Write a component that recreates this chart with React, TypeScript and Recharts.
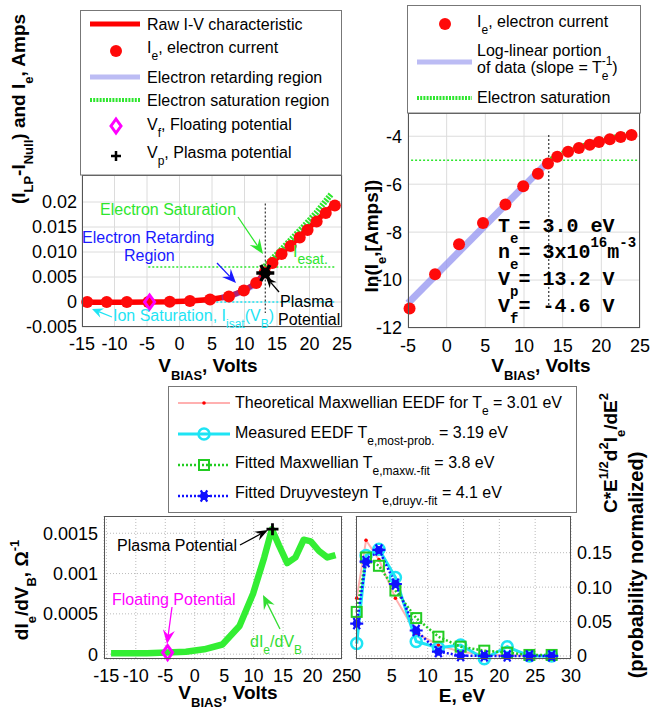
import React from 'react';
import { LineChart, Line, XAxis, YAxis, CartesianGrid, ReferenceLine } from 'recharts';

const SANS = '"Liberation Sans", Arial, Helvetica, sans-serif';
const MONO = '"Liberation Mono", "Courier New", monospace';

// ---------- probe sweep (top-left + bottom-left panels) ----------
const vBias = [-14.2, -11.2, -8.1, -4.8, -1.5, 1.6, 4.7, 7.6, 9.9, 11.8, 13.1, 14.3, 15.7, 17.1, 18.5, 19.7, 21.1, 22.5, 23.9];
const rawCurrent = [-0.00005, -0.00004, -0.00003, 0, 0.00005, 0.0002, 0.0005, 0.0011, 0.0023, 0.0038, 0.0059, 0.0079, 0.0098, 0.0114, 0.0131, 0.0146, 0.0163, 0.018, 0.0196];
const electronCurrent = [0, 0, 0, 0.00001, 0.00006, 0.0002, 0.0005, 0.0011, 0.0023, 0.0038, 0.0059, 0.0078, 0.0096, 0.0112, 0.0129, 0.0144, 0.0161, 0.0178, 0.0193];
const dIdV = [0.00001, 0.00001, 0.00001, 0.00002, 0.00003, 0.00006, 0.00012, 0.00035, 0.00075, 0.0012, 0.00155, 0.00135, 0.00113, 0.0012, 0.00142, 0.0014, 0.00128, 0.0012, 0.00123];

const retardV = [6.5, 7.6, 9.9, 11.8, 13.2];
const retardI = [0.0009, 0.0011, 0.0022, 0.0037, 0.0058];
const esatFitV = [13.1, 15, 17, 19, 21, 23.3];
const esatFitI = [0.0071, 0.0096, 0.0123, 0.015, 0.0178, 0.0215];

const plasmaPotential = 13.2;
const floatingPotential = -4.6;
const plasmaCurrent = 0.0058;
const esatLevel = 0.007;
const plasmaDeriv = 0.00155;
const floatingDeriv = 0.00002;

// ---------- ln(Ie) panel ----------
const lnV = [-4.8, -1.5, 1.6, 4.7, 7.6, 9.9, 11.8, 13.1, 14.3, 15.7, 17.1, 18.5, 19.7, 21.1, 22.5, 23.9];
const lnIe = [-11.19, -9.76, -8.51, -7.62, -6.85, -6.09, -5.56, -5.14, -4.86, -4.65, -4.49, -4.35, -4.24, -4.13, -4.03, -3.95];
const logFitV = [-5, 13.1];
const logFitLn = [-10.97, -5.07];
const lnSatV = [13.1, 15, 17, 19, 21, 23, 24];
const lnSatLn = [-5.02, -4.7, -4.46, -4.25, -4.08, -3.94, -3.86];
const lnEsatLevel = -5;

// ---------- EEDF panel ----------
const energy = [0.1, 1.4, 3.2, 5.5, 8.4, 11.5, 14.6, 17.9, 21.1, 24.2, 27.3];
const theoryEEDF = [0.084, 0.168, 0.14, 0.084, 0.033, 0.016, 0.006, 0.002, 0.001, 0.0003, 0.0001];
const measuredEEDF = [0.018, 0.146, 0.155, 0.114, 0.021, 0.012, 0.016, -0.004, 0.0135, 0, 0];
const maxwellFit = [0.064, 0.143, 0.131, 0.095, 0.055, 0.028, 0.0135, 0.0077, 0.0048, 0.0015, 0.0015];
const druyvFit = [0.047, 0.137, 0.154, 0.1045, 0.037, 0.0063, 0.0005, 0, 0, 0, 0];

// ---------- ticks ----------
const vTicks = [-15, -10, -5, 0, 5, 10, 15, 20, 25];
const p1YTicks = [-0.005, 0, 0.005, 0.01, 0.015, 0.02];
const p1YLabels = ['-0.005', '0', '0.005', '0.010', '0.015', '0.02'];
const p2XTicks = [-5, 0, 5, 10, 15, 20, 25];
const p2YTicks = [-12, -10, -8, -6, -4];
const p3YTicks = [0, 0.0005, 0.001, 0.0015];
const p3YLabels = ['0', '0.0005', '0.001', '0.0015'];
const p4XTicks = [0, 5, 10, 15, 20, 25, 30];
const p4YTicks = [0, 0.05, 0.1, 0.15];
const p4YLabels = ['0', '0.05', '0.10', '0.15'];

const pts = (xs: number[], ys: number[]) => xs.map((x, i) => ({ x, y: ys[i] }));
const fmt = (ticks: number[], labels: string[]) => (v: number) => {
  const i = ticks.indexOf(v);
  return i >= 0 ? labels[i] : String(v);
};

const TICK = { fill: '#000', fontSize: 18, fontFamily: SANS };
const GRID = '#dcdcdc';
const FRAME = '#555';
const RED = '#ff0000';
const GREEN = '#2ee62e';
const CYAN = '#1ee4f4';
const MAGENTA = '#ff00ff';
const BLUE = '#1a1aff';

// ---------- markers ----------
const redDot = (p: any) => <circle key={`r${p.index}`} cx={p.cx} cy={p.cy} r={6} fill="#ff0a0a" />;
const diamond = (p: any) => (
  <polygon key={`d${p.index}`} points={`${p.cx},${p.cy - 7} ${p.cx + 5},${p.cy} ${p.cx},${p.cy + 7} ${p.cx - 5},${p.cy}`} fill="none" stroke={MAGENTA} strokeWidth={3} />
);
const bigStar = (p: any) => (
  <g key={`s${p.index}`} stroke="#000" strokeWidth={3.5}>
    <path d={`M${p.cx - 9},${p.cy}h18M${p.cx - 4.5},${p.cy - 8}l9,16M${p.cx - 4.5},${p.cy + 8}l9,-16`} />
    <circle cx={p.cx} cy={p.cy} r={3.5} fill="#000" />
  </g>
);
const plusMark = (p: any) => (
  <path key={`p${p.index}`} d={`M${p.cx - 6},${p.cy}h12M${p.cx},${p.cy - 6}v12`} stroke="#000" strokeWidth={2.8} />
);
const smallRed = (p: any) => <circle key={`t${p.index}`} cx={p.cx} cy={p.cy} r={1.8} fill="#ff0000" />;
const openCircle = (p: any) => <circle key={`o${p.index}`} cx={p.cx} cy={p.cy} r={5.5} fill="none" stroke={CYAN} strokeWidth={2.5} />;
const openSquare = (p: any) => <rect key={`q${p.index}`} x={p.cx - 5} y={p.cy - 5} width={10} height={10} fill="none" stroke="#22cc22" strokeWidth={2} />;
const druyStar = (p: any) => (
  <g key={`b${p.index}`} stroke="#1010ff" strokeWidth={2.2}>
    <path d={`M${p.cx - 6.5},${p.cy}h13M${p.cx - 3.2},${p.cy - 5.6}l6.4,11.2M${p.cx - 3.2},${p.cy + 5.6}l6.4,-11.2`} />
    <circle cx={p.cx} cy={p.cy} r={4} fill="#1010ff" stroke="none" />
  </g>
);

// ---------- overlay helpers ----------
type Seg = [string, number, number?];
function Rich({ x, y, segs, size = 16, small = 12, fill = '#000', bold = false, anchor = 'start', rot = false, family = SANS, sub = 0.42, sup = 0.5 }: any) {
  let level = 0;
  const spans = segs.map(([s, k, dx]: Seg, i: number) => {
    const target = k === 1 ? size * sub : k === -1 ? -size * sup : 0;
    const dy = target - level;
    level = target;
    return (
      <tspan key={i} dy={dy} dx={dx} fontSize={k === 0 ? size : small}>
        {s}
      </tspan>
    );
  });
  return (
    <text x={x} y={y} fill={fill} fontFamily={family} fontWeight={bold ? 'bold' : 'normal'} textAnchor={anchor} style={{ whiteSpace: 'pre' }} transform={rot ? `rotate(-90 ${x} ${y})` : undefined}>
      {spans}
    </text>
  );
}

function Arrow({ x1, y1, x2, y2, color, len = 13, half = 5 }: any) {
  const dx = x2 - x1;
  const dy = y2 - y1;
  const d = Math.hypot(dx, dy);
  const ux = dx / d;
  const uy = dy / d;
  const bx = x2 - ux * len;
  const by = y2 - uy * len;
  const nx = x2 - ux * len * 0.65;
  const ny = y2 - uy * len * 0.65;
  const poly = [
    [x2, y2],
    [bx - uy * half, by + ux * half],
    [nx, ny],
    [bx + uy * half, by - ux * half],
  ];
  return (
    <g>
      <line x1={x1} y1={y1} x2={nx} y2={ny} stroke={color} strokeWidth={1.3} />
      <polygon points={poly.map((q) => q.join(',')).join(' ')} fill={color} />
    </g>
  );
}

const axisCommon = { tickSize: 0, axisLine: false, tickLine: false, tick: TICK, interval: 0 as const };
const series = { isAnimationActive: false, activeDot: false, dataKey: 'y' };

export default function App() {
  return (
    <div style={{ position: 'absolute', left: 0, top: 0, width: 650, height: 712, background: '#fff', fontFamily: SANS }}>
      {/* top-left: I-V characteristic */}
      <div style={{ position: 'absolute', left: 0, top: 175 }}>
        <LineChart width={352} height={182} margin={{ top: 0, right: 10, bottom: 0, left: 0 }}>
          <CartesianGrid stroke={GRID} />
          <XAxis type="number" dataKey="x" domain={[-15, 25]} ticks={vTicks} height={30} tickMargin={10} {...axisCommon} />
          <YAxis type="number" domain={[-0.005, 0.0254]} ticks={p1YTicks} width={82} tickMargin={5} tickFormatter={fmt(p1YTicks, p1YLabels)} {...axisCommon} />
          <ReferenceLine segment={[{ x: -4.8, y: 0 }, { x: 23.9, y: 0 }]} stroke={CYAN} strokeWidth={1.5} strokeDasharray="2 2" />
          <Line data={pts(vBias, rawCurrent)} {...series} stroke={RED} strokeWidth={5.5} dot={false} />
          <Line data={pts(vBias, electronCurrent)} {...series} stroke="none" dot={redDot} />
          <Line data={pts(retardV, retardI)} {...series} stroke="#4a4aff" strokeOpacity={0.45} strokeWidth={6} dot={false} />
          <Line data={pts(esatFitV, esatFitI)} {...series} stroke={GREEN} strokeWidth={6} strokeDasharray="2 1.2" dot={false} />
          <ReferenceLine segment={[{ x: -4.8, y: esatLevel }, { x: 24, y: esatLevel }]} stroke={GREEN} strokeWidth={1.5} strokeDasharray="2 2" />
          <ReferenceLine segment={[{ x: plasmaPotential, y: 0.0197 }, { x: plasmaPotential, y: -0.0022 }]} stroke="#333" strokeWidth={1.2} strokeDasharray="2 2" />
          <Line data={[{ x: floatingPotential, y: 0 }]} {...series} stroke="none" dot={diamond} />
          <Line data={[{ x: plasmaPotential, y: plasmaCurrent }]} {...series} stroke="none" dot={bigStar} />
        </LineChart>
      </div>

      {/* top-right: ln(Ie) */}
      <div style={{ position: 'absolute', left: 360, top: 113 }}>
        <LineChart width={292} height={245} margin={{ top: 0, right: 12, bottom: 0, left: 0 }}>
          <CartesianGrid stroke={GRID} />
          <XAxis type="number" dataKey="x" domain={[-5, 25]} ticks={p2XTicks} height={30} tickMargin={11} {...axisCommon} />
          <YAxis type="number" domain={[-12, -3.03]} ticks={p2YTicks} width={48} tickMargin={6} {...axisCommon} />
          <ReferenceLine segment={[{ x: -4.6, y: lnEsatLevel }, { x: 24.7, y: lnEsatLevel }]} stroke={GREEN} strokeWidth={1.5} strokeDasharray="2 2" />
          <ReferenceLine segment={[{ x: plasmaPotential, y: -3.95 }, { x: plasmaPotential, y: -11.1 }]} stroke="#333" strokeWidth={1.2} strokeDasharray="2 2" />
          <Line data={pts(lnV, lnIe)} {...series} stroke="none" dot={redDot} />
          <Line data={pts(logFitV, logFitLn)} {...series} stroke="#8c8cf0" strokeOpacity={0.7} strokeWidth={7} dot={false} />
          <Line data={pts(lnSatV, lnSatLn)} {...series} stroke={GREEN} strokeWidth={5} strokeDasharray="2 1.2" dot={false} />
        </LineChart>
      </div>

      {/* bottom-left: dIe/dVB */}
      <div style={{ position: 'absolute', left: 0, top: 516 }}>
        <LineChart width={352} height={173} margin={{ top: 0, right: 10, bottom: 0, left: 0 }}>
          <CartesianGrid stroke="#bbb" strokeDasharray="1 2" />
          <XAxis type="number" dataKey="x" domain={[-15.4, 25]} ticks={vTicks} height={30} tickMargin={10} {...axisCommon} />
          <YAxis type="number" domain={[-0.00006, 0.001714]} ticks={p3YTicks} width={104} tickMargin={6} tickFormatter={fmt(p3YTicks, p3YLabels)} {...axisCommon} />
          <Line data={pts(vBias, dIdV)} {...series} stroke="#33ee33" strokeWidth={6.5} strokeLinejoin="round" dot={false} />
          <Line data={[{ x: floatingPotential, y: floatingDeriv }]} {...series} stroke="none" dot={diamond} />
          <Line data={[{ x: plasmaPotential, y: plasmaDeriv }]} {...series} stroke="none" dot={plusMark} />
        </LineChart>
      </div>

      {/* bottom-right: EEDF */}
      <div style={{ position: 'absolute', left: 344, top: 516 }}>
        <LineChart width={287} height={173} margin={{ top: 0, right: 0, bottom: 0, left: 12 }}>
          <CartesianGrid stroke="#bbb" strokeDasharray="1 2" />
          <XAxis type="number" dataKey="x" domain={[0, 30]} ticks={p4XTicks} height={30} tickMargin={10} {...axisCommon} />
          <YAxis type="number" orientation="right" domain={[-0.0044, 0.2033]} ticks={p4YTicks} width={60} tickMargin={6} tickFormatter={fmt(p4YTicks, p4YLabels)} {...axisCommon} />
          <Line data={pts(energy, theoryEEDF)} {...series} stroke="#ffb0b0" strokeWidth={2} dot={smallRed} />
          <Line data={pts(energy, measuredEEDF)} {...series} stroke={CYAN} strokeWidth={3} dot={openCircle} />
          <Line data={pts(energy, maxwellFit)} {...series} stroke="#22cc22" strokeWidth={2.5} strokeDasharray="2 2" dot={openSquare} />
          <Line data={pts(energy, druyvFit)} {...series} stroke="#1010ff" strokeWidth={2.5} strokeDasharray="2 2" dot={druyStar} />
        </LineChart>
      </div>

      {/* frames, legends, labels, annotations */}
      <svg width={650} height={712} style={{ position: 'absolute', left: 0, top: 0, pointerEvents: 'none' }} fontFamily={SANS}>
        <rect x={82.5} y={175.5} width={259} height={151} fill="none" stroke={FRAME} />
        <rect x={408.5} y={113.5} width={231} height={214} fill="none" stroke={FRAME} />
        <rect x={104.5} y={516.5} width={237} height={142} fill="none" stroke={FRAME} />
        <rect x={356.5} y={516.5} width={214} height={142} fill="none" stroke={FRAME} />

        {/* legend 1 */}
        <rect x={80.5} y={10.5} width={261} height={164.5} fill="#fff" stroke="#777" />
        <line x1={90} x2={140} y1={24} y2={24} stroke={RED} strokeWidth={5} />
        <Rich x={147} y={30} segs={[['Raw I-V characteristic', 0]]} />
        {redDot({ cx: 116, cy: 51, index: 'l1' })}
        <Rich x={147} y={53} segs={[['I', 0], ['e', 1], [', electron current', 0]]} />
        <line x1={90} x2={140} y1={77} y2={77} stroke="#bcbcf4" strokeWidth={5} />
        <Rich x={147} y={83} segs={[['Electron retarding region', 0]]} />
        <line x1={90} x2={140} y1={100} y2={100} stroke={GREEN} strokeWidth={4} strokeDasharray="2 1.2" />
        <Rich x={147} y={106} segs={[['Electron saturation region', 0]]} />
        {diamond({ cx: 116, cy: 126, index: 'l1' })}
        <Rich x={147} y={130} segs={[['V', 0], ['f', 1], [', Floating potential', 0]]} />
        <path d="M111,156h10M116,151v10" stroke="#000" strokeWidth={2.5} />
        <Rich x={147} y={158} segs={[['V', 0], ['p', 1], [', Plasma potential', 0]]} />

        {/* legend 2 */}
        <rect x={407.5} y={5.5} width={233} height={107.5} fill="#fff" stroke="#777" />
        {redDot({ cx: 445, cy: 24, index: 'l2' })}
        <Rich x={477} y={27} segs={[['I', 0], ['e', 1], [', electron current', 0]]} />
        <line x1={417} x2={472} y1={62} y2={62} stroke="#bcbcf4" strokeWidth={5} />
        <Rich x={477} y={56} segs={[['Log-linear portion', 0]]} />
        <Rich x={477} y={73} segs={[['of data (slope = T', 0], ['-1', -1], ['e', 1, -10.7], [')', 0, 4]]} />
        <line x1={417} x2={472} y1={98} y2={98} stroke={GREEN} strokeWidth={4} strokeDasharray="2 1.2" />
        <Rich x={477} y={103} segs={[['Electron saturation', 0]]} />

        {/* legend 3 */}
        <rect x={168.5} y={386.5} width={408} height={126} fill="#fff" stroke="#777" />
        <line x1={178} x2={230} y1={403} y2={403} stroke="#ffb0b0" strokeWidth={2} />
        {smallRed({ cx: 204, cy: 403, index: 'l3' })}
        <Rich x={235} y={408} segs={[['Theoretical Maxwellian EEDF for T', 0], ['e', 1], [' = 3.01 eV', 0]]} />
        <line x1={178} x2={230} y1={434} y2={434} stroke={CYAN} strokeWidth={3} />
        {openCircle({ cx: 204, cy: 434, index: 'l3' })}
        <Rich x={235} y={438} segs={[['Measured EEDF T', 0], ['e,most-prob.', 1], [' = 3.19 eV', 0]]} />
        <line x1={178} x2={230} y1={465} y2={465} stroke="#22cc22" strokeWidth={2.5} strokeDasharray="2 2" />
        {openSquare({ cx: 204, cy: 465, index: 'l3' })}
        <Rich x={235} y={468} segs={[['Fitted Maxwellian T', 0], ['e,maxw.-fit', 1], [' = 3.8 eV', 0]]} />
        <line x1={178} x2={230} y1={496} y2={496} stroke="#1010ff" strokeWidth={2.5} strokeDasharray="2 2" />
        {druyStar({ cx: 204, cy: 496, index: 'l3' })}
        <Rich x={235} y={498} segs={[['Fitted Druyvesteyn T', 0], ['e,druyv.-fit', 1], [' = 4.1 eV', 0]]} />

        {/* axis labels */}
        <Rich x={25} y={109} rot bold size={19} small={13} anchor="middle" segs={[['(I', 0], ['LP', 1], ['-I', 0], ['Null', 1], [') and I', 0], ['e', 1], [', Amps', 0]]} />
        <Rich x={208} y={372} bold size={19} small={13} anchor="middle" segs={[['V', 0], ['BIAS', 1], [', Volts', 0]]} />
        <Rich x={378} y={236} rot bold size={19} small={13} anchor="middle" segs={[['ln(I', 0], ['e', 1], [',[Amps])', 0]]} />
        <Rich x={541} y={372} bold size={19} small={13} anchor="middle" segs={[['V', 0], ['BIAS', 1], [', Volts', 0]]} />
        <Rich x={28} y={590} rot bold size={19} small={13} anchor="middle" segs={[['dI', 0], ['e', 1], ['/dV', 0], ['B', 1], [', \u03A9', 0], ['-1', -1]]} />
        <Rich x={228} y={699} bold size={19} small={13} anchor="middle" segs={[['V', 0], ['BIAS', 1], [', Volts', 0]]} />
        <Rich x={462} y={702} bold size={19} anchor="middle" segs={[['E, eV', 0]]} />
        <Rich x={617} y={453} rot bold size={19} small={13} anchor="middle" segs={[['C*E', 0], ['1/2', -1], ['d', 0], ['2', -1], ['I', 0], ['e', 1], ['/dE', 0], ['2', -1]]} />
        <Rich x={643} y={565} rot bold size={20} anchor="middle" segs={[['(probability normalized)', 0]]} />

        {/* top-left annotations */}
        <Rich x={100} y={215} fill={GREEN} segs={[['Electron Saturation', 0]]} />
        <Arrow x1={238} y1={217} x2={263} y2={254} color={GREEN} len={15} half={6} />
        <Rich x={82} y={243} fill={BLUE} segs={[['Electron Retarding', 0]]} />
        <Rich x={124} y={261} fill={BLUE} segs={[['Region', 0]]} />
        <Arrow x1={217} y1={263} x2={236} y2={283} color={BLUE} len={14} half={6} />
        <Rich x={293} y={257} fill={GREEN} small={14} segs={[['I', 0], ['esat.', 1]]} />
        <Rich x={280} y={307} segs={[['Plasma', 0]]} />
        <Rich x={278} y={325} segs={[['Potential', 0]]} />
        <Arrow x1={279} y1={292} x2={266} y2={277} color="#000" len={11} half={4.5} />
        <Rich x={113} y={321} fill={CYAN} segs={[['Ion Saturation, I', 0], ['isat', 1], ['(V', 0], ['B', 1], [')', 0]]} />
        <Arrow x1={112} y1={317} x2={92} y2={309} color={CYAN} len={11} half={5} />

        {/* ln panel text */}
        <Rich x={498} y={232} family={MONO} bold size={20} small={14} sub={0.55} sup={0.55} segs={[['T', 0], ['e', 1], ['= 3.0 eV', 0]]} />
        <Rich x={498} y={258} family={MONO} bold size={20} small={14} sub={0.55} sup={0.55} segs={[['n', 0], ['e', 1], ['= 3x10', 0], ['16', -1], ['m', 0], ['-3', -1]]} />
        <Rich x={498} y={285} family={MONO} bold size={20} small={14} sub={0.55} sup={0.55} segs={[['V', 0], ['p', 1], ['= 13.2 V', 0]]} />
        <Rich x={498} y={312} family={MONO} bold size={20} small={14} sub={0.55} sup={0.55} segs={[['V', 0], ['f', 1], ['= -4.6 V', 0]]} />

        {/* dI/dV annotations */}
        <Rich x={117} y={551} segs={[['Plasma Potential', 0]]} />
        <Arrow x1={240} y1={545} x2={268} y2={530} color="#000" len={13} half={5} />
        <Rich x={112} y={605} fill={MAGENTA} segs={[['Floating Potential', 0]]} />
        <Arrow x1={172} y1={607} x2={167} y2={644} color={MAGENTA} len={14} half={6} />
        <Rich x={250} y={647} fill="#33dd33" segs={[['dI', 0], ['e', 1], ['/dV', 0], ['B', 1]]} />
        <Arrow x1={280} y1={629} x2={263} y2={595} color="#33dd33" len={14} half={6} />
      </svg>
    </div>
  );
}
